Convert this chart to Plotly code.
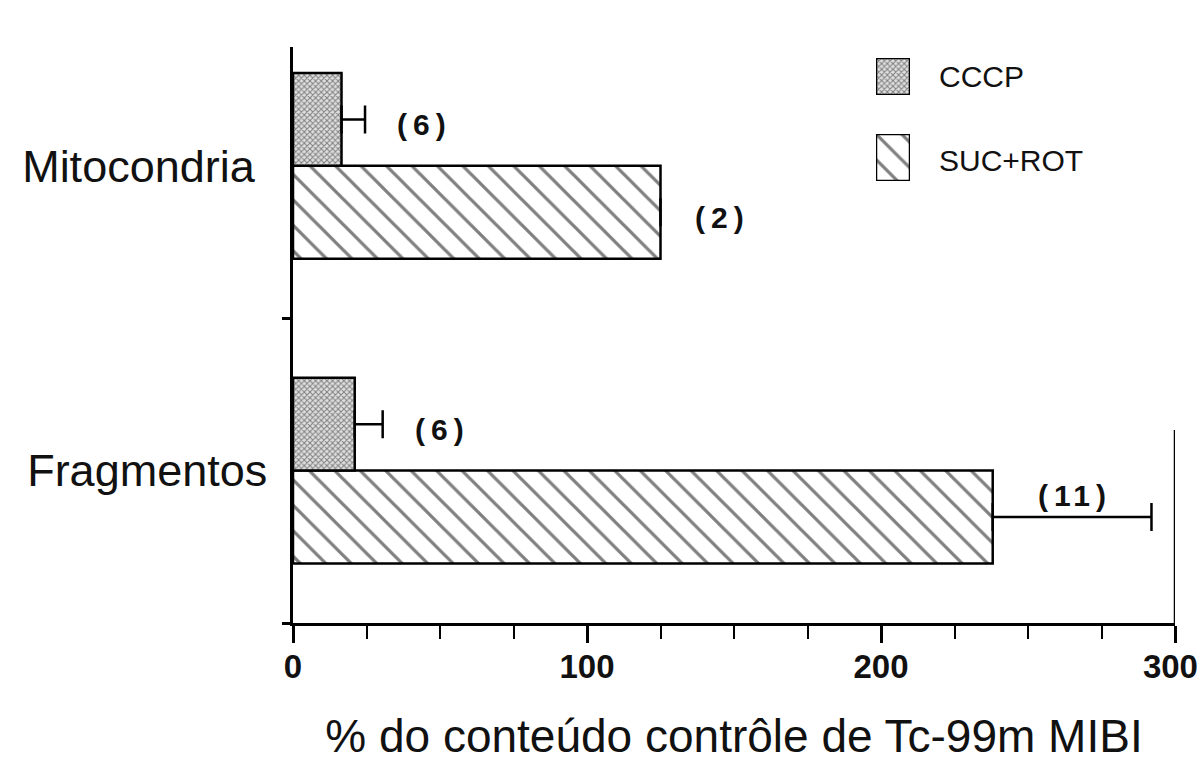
import plotly.graph_objects as go

# ---- data ----
categories = ["Mitocondria", "Fragmentos"]
cccp_values = [16.5, 21.0]
cccp_errors = [8.0, 9.5]
cccp_n = [6, 6]
sucrot_values = [125.0, 238.0]
sucrot_errors = [0.0, 54.0]
sucrot_n = [2, 11]
x_tick_values = [0, 100, 200, 300]
series_names = ["CCCP", "SUC+ROT"]
x_title = "% do conteúdo contrôle de Tc-99m MIBI"

FONT = "Liberation Sans, Arial, sans-serif"
BARGAP = 0.39
W = 1200
H = 763
ML, MR, MT, MB = 293, 25, 47, 140
PW = W - ML - MR
PH = H - MT - MB

cccp_pattern = dict(shape="x", size=4, solidity=0.45, fgcolor="#1e1e1e", bgcolor="#e0e0e0")
suc_pattern = dict(shape="\\", size=18, solidity=0.18, fgcolor="#000", bgcolor="white")
bar_line = dict(color="black", width=2.5)

fig = go.Figure()

# SUC+ROT first -> lower bar within group, CCCP above
fig.add_trace(go.Bar(
    name=series_names[1], y=categories, x=sucrot_values, orientation="h",
    marker=dict(color="white", pattern=suc_pattern, line=bar_line),
    error_x=dict(type="data", symmetric=False, array=sucrot_errors,
                 arrayminus=[0] * len(sucrot_errors), color="black", thickness=2.5, width=14),
    showlegend=False,
))
fig.add_trace(go.Bar(
    name=series_names[0], y=categories, x=cccp_values, orientation="h",
    marker=dict(color="#e0e0e0", pattern=cccp_pattern, line=bar_line),
    error_x=dict(type="data", symmetric=False, array=cccp_errors,
                 arrayminus=[0] * len(cccp_errors), color="black", thickness=2.5, width=14),
    showlegend=False,
))

cat_order = ["Fragmentos", "Mitocondria"]
half = (1 - BARGAP) / 2

annotations = []
# n labels
label_font = dict(family=FONT, size=30, color="#111")
def nlabel(n):
    return "<b>(\u2009" + "\u200a".join(str(n)) + "\u2009)</b>"

for i, cat in enumerate(categories):
    idx = cat_order.index(cat)
    # CCCP (upper bar)
    yc = idx + half / 2
    annotations.append(dict(x=cccp_values[i] + cccp_errors[i], y=yc, xref="x", yref="y",
                            text=nlabel(cccp_n[i]), showarrow=False, xanchor="left",
                            xshift=30, yshift=-5, font=label_font))
    # SUC+ROT (lower bar)
    ys = idx - half / 2
    if sucrot_errors[i] > 30:
        annotations.append(dict(x=sucrot_values[i] + sucrot_errors[i] / 2, y=ys, xref="x", yref="y",
                                text=nlabel(sucrot_n[i]), showarrow=False, xanchor="center",
                                yshift=22, font=label_font))
    else:
        annotations.append(dict(x=sucrot_values[i] + sucrot_errors[i], y=ys, xref="x", yref="y",
                                text=nlabel(sucrot_n[i]), showarrow=False, xanchor="left",
                                xshift=32, yshift=-5, font=label_font))

# legend: swatches drawn in small overlay axes
def px_dom_x(a, b):
    return [(a - ML) / PW, (b - ML) / PW]
def px_dom_y(a, b):
    return [(H - MB - b) / PH, (H - MB - a) / PH]

sw_x = px_dom_x(876, 910)
fig.add_trace(go.Bar(x=[1], y=[0], base=0, width=1, orientation="h", xaxis="x2", yaxis="y2",
                     marker=dict(color="#e0e0e0", pattern=cccp_pattern, line=bar_line),
                     cliponaxis=False, showlegend=False, hoverinfo="skip"))
fig.add_trace(go.Bar(x=[1], y=[0], base=0, width=1, orientation="h", xaxis="x3", yaxis="y3",
                     marker=dict(color="white", pattern=suc_pattern, line=bar_line),
                     cliponaxis=False, showlegend=False, hoverinfo="skip"))

leg_font = dict(family=FONT, size=30, color="#111")
annotations.append(dict(x=(937 - ML) / PW, y=(H - MB - 76) / PH, xref="paper", yref="paper",
                        text=series_names[0], showarrow=False, xanchor="left", yanchor="middle",
                        font=leg_font))
annotations.append(dict(x=(937 - ML) / PW, y=(H - MB - 160) / PH, xref="paper", yref="paper",
                        text=series_names[1], showarrow=False, xanchor="left", yanchor="middle",
                        font=leg_font))

# tick labels (last one padded so it stays inside the page)
tick_text = ["<b>" + str(v) + "</b>" for v in x_tick_values]
tick_text[-1] = tick_text[-1] + "\u00a0"

hidden = dict(visible=False, fixedrange=True)
fig.update_layout(
    width=W, height=H,
    margin=dict(l=ML, r=MR, t=MT, b=MB),
    paper_bgcolor="white", plot_bgcolor="white",
    barmode="group", bargap=BARGAP, bargroupgap=0,
    font=dict(family=FONT, color="#111"),
    xaxis=dict(range=[0, 300], tickmode="array", tickvals=x_tick_values,
               ticktext=tick_text,
               ticks="outside", ticklen=17, tickwidth=2.5, tickcolor="black",
               showline=True, linewidth=2.5, linecolor="black",
               showgrid=False, zeroline=False, ticklabeloverflow="allow",
               ticklabelstandoff=-4, automargin=False,
               tickfont=dict(family=FONT, size=33, color="#111"),
               minor=dict(dtick=25, tick0=0, ticks="outside", ticklen=13, tickwidth=2,
                          tickcolor="black", showgrid=False),
               title=dict(text=x_title, font=dict(family=FONT, size=46, color="#111"), standoff=36)),
    yaxis=dict(type="category", categoryorder="array", categoryarray=cat_order,
               range=[-0.5, 1.39], tickmode="array", tickvals=cat_order,
               ticktext=["Fragmentos", "Mitocondria\u00a0"],
               tickson="boundaries", ticks="outside", ticklen=8, tickwidth=2.5, tickcolor="black",
               showline=True, linewidth=2.5, linecolor="black", showgrid=False, zeroline=False,
               ticklabelstandoff=14, automargin=False,
               tickfont=dict(family=FONT, size=45, color="#111")),
    xaxis2=dict(domain=sw_x, range=[0, 1], anchor="y2", **hidden),
    yaxis2=dict(domain=px_dom_y(58, 95), range=[-0.5, 0.5], anchor="x2", **hidden),
    xaxis3=dict(domain=sw_x, range=[0, 1], anchor="y3", **hidden),
    yaxis3=dict(domain=px_dom_y(134, 181), range=[-0.5, 0.5], anchor="x3", **hidden),
    annotations=annotations,
    shapes=[dict(type="line", xref="x", yref="paper", x0=300, x1=300,
                 y0=0, y1=(H - MB - 430) / PH, line=dict(color="black", width=2.5))],
)

fig.write_html("out.html")
